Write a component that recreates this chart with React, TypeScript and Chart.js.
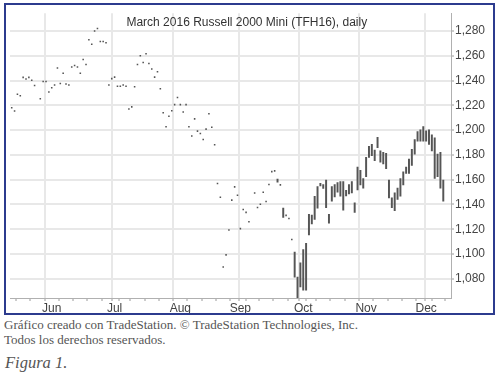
import React, { useEffect, useRef } from "react";
import { Chart, registerables } from "chart.js";

Chart.register(...registerables);

// ---- data ----
const chartTitle = "March 2016 Russell 2000 Mini (TFH16), daily";
const startDate = "2015-05-12"; // first weekday shown
const dayCount = 155; // weekdays on the axis
const monthNames = ["Jan", "Feb", "Mar", "Apr", "May", "Jun", "Jul", "Aug", "Sep", "Oct", "Nov", "Dec"];
const yTicks = [1080, 1100, 1120, 1140, 1160, 1180, 1200, 1220, 1240, 1260, 1280];
const yMin = 1064.5;
const yMax = 1294.4;

// single-print days (thinly traded period), one value per weekday from startDate
const dotPrices: (number | null)[] = [
  1218.0, 1215.4, 1229.0, 1227.7, 1242.6, 1241.3, 1242.6, 1240.2, 1236.1, null,
  1225.3, 1239.2, 1239.2, 1230.8, 1234.2, 1236.5, 1250.2, 1237.6, 1246.0, 1237.3,
  1236.5, 1251.0, 1252.2, 1251.0, 1246.0, 1257.0, 1253.0, 1272.9, 1269.3, 1280.0,
  1282.0, 1271.6, 1271.6, 1270.6, 1236.5, 1241.6, 1242.8, 1235.5, 1235.5, 1236.5,
  1235.5, 1217.0, 1218.8, 1235.0, 1253.0, 1260.1, 1254.6, 1261.6, 1253.8, 1249.4,
  1242.8, 1247.1, 1233.4, 1214.1, 1202.8, 1211.2, 1215.7, 1220.6, 1226.4, 1220.6,
  1214.6, 1220.6, 1202.8, 1195.3, 1209.1, 1199.2, 1197.3, 1192.4, 1200.8, 1213.3,
  1202.4, 1188.2, 1156.9, 1145.9, 1089.6, 1099.3, 1119.4, 1143.5, 1154.2, 1147.5,
  1120.5, 1135.9, 1133.6, 1126.0, null, 1149.3, 1137.5, 1140.1, 1149.8, 1142.4,
  1156.1, 1166.5, 1167.1, null, 1155.8, null, 1131.2, 1128.6, 1111.8,
];

// high-low bars, starting at weekday index firstBarDay
const firstBarDay = 93;
const barHighs: (number | null)[] = [
  1160.5, null, 1137.0, null, null, null, 1101.6, 1081.3, 1092.8, 1103.5,
  1108.7, 1132.0, 1131.5, 1146.5, 1154.5, 1157.0, 1156.0, 1159.7, 1132.0, 1154.5,
  1156.0, 1157.6, 1158.4, 1158.4, 1151.4, 1156.0, 1158.4, 1141.4, 1170.2, 1167.5,
  1161.0, 1178.0, 1187.0, 1188.5, 1184.0, 1194.2, 1183.2, 1182.0, 1181.2, 1159.7,
  1145.3, 1149.3, 1153.2, 1161.0, 1166.3, 1170.2, 1176.7, 1184.5, 1192.4, 1198.9,
  1200.2, 1202.8, 1199.5, 1200.2, 1196.3, 1193.7, 1180.6, 1182.0, 1159.7,
];
const barLows: (number | null)[] = [
  1158.0, null, 1129.5, null, null, null, 1081.3, 1062.0, 1073.4, 1070.8,
  1070.8, 1115.5, 1124.4, 1128.0, 1137.0, 1155.0, 1153.0, 1137.5, 1125.0, 1142.7,
  1146.0, 1150.0, 1146.7, 1135.5, 1147.0, 1148.5, 1149.3, 1133.6, 1151.8, 1155.8,
  1153.2, 1162.4, 1178.0, 1179.3, 1175.4, 1185.9, 1174.1, 1172.8, 1168.9, 1145.3,
  1137.5, 1134.9, 1144.0, 1146.7, 1155.8, 1165.0, 1165.0, 1171.5, 1180.6, 1191.0,
  1191.0, 1191.0, 1191.0, 1188.5, 1183.2, 1161.0, 1162.4, 1153.2, 1142.7,
];

const captionLines = [
  "Gráfico creado con TradeStation. © TradeStation Technologies, Inc.",
  "Todos los derechos reservados.",
];
const figureLabel = "Figura 1.";

// ---- derived axis info (weekday calendar) ----
function buildCalendar() {
  const d = new Date(startDate + "T12:00:00Z");
  const monthStart: Record<number, string> = {};
  const mondays: number[] = [];
  let prevMonth = -1;
  for (let i = 0; i < dayCount; i++) {
    while (d.getUTCDay() === 0 || d.getUTCDay() === 6) d.setUTCDate(d.getUTCDate() + 1);
    const m = d.getUTCMonth();
    if (prevMonth !== -1 && m !== prevMonth) monthStart[i] = monthNames[m];
    prevMonth = m;
    if (d.getUTCDay() === 1) mondays.push(i);
    d.setUTCDate(d.getUTCDate() + 1);
  }
  return { monthStart, mondays };
}

const titlePlugin = {
  id: "insideTitle",
  afterDraw(chart: any) {
    const { ctx, chartArea } = chart;
    ctx.save();
    ctx.font = "12px 'Liberation Sans', Arial, sans-serif";
    ctx.fillStyle = "#333";
    ctx.textBaseline = "middle";
    ctx.textAlign = "center";
    ctx.fillText(chartTitle, chartArea.left + chartArea.width * 0.537, chartArea.top + 9);
    ctx.restore();
  },
};

export default function App() {
  const ref = useRef<HTMLCanvasElement | null>(null);

  useEffect(() => {
    if (!ref.current) return;
    const { monthStart, mondays } = buildCalendar();
    const tickSet = new Set<number>([...mondays, ...Object.keys(monthStart).map(Number)]);
    const xTickValues = Array.from(tickSet).sort((a, b) => a - b);

    const barData: any[] = [];
    barHighs.forEach((h, k) => {
      const l = barLows[k];
      if (h != null && l != null) barData.push({ x: firstBarDay + k, y: [l, h] });
    });
    const dotData: any[] = [];
    dotPrices.forEach((p, i) => {
      if (p != null) dotData.push({ x: i, y: p });
    });

    const font = { family: "'Liberation Sans', Arial, sans-serif", size: 12 };

    const chart = new Chart(ref.current, {
      type: "bar",
      data: {
        datasets: [
          {
            type: "bar",
            data: barData,
            backgroundColor: "#555",
            barThickness: 1.3,
            grouped: false,
          } as any,
          {
            type: "scatter",
            data: dotData,
            pointStyle: "rect",
            pointRadius: 1.1,
            backgroundColor: "#555",
            borderWidth: 0,
          } as any,
        ],
      },
      options: {
        animation: false,
        responsive: false,
        events: [],
        layout: { padding: { left: 1, top: 0, right: 0, bottom: 0 } },
        plugins: { legend: { display: false }, tooltip: { enabled: false }, title: { display: false } },
        scales: {
          x: {
            type: "linear",
            min: -0.6,
            max: 153.7,
            offset: false,
            afterBuildTicks: (s: any) => {
              s.ticks = xTickValues.map((v) => ({ value: v }));
            },
            afterFit: (s: any) => {
              s.height = 15;
            },
            ticks: {
              autoSkip: false,
              maxRotation: 0,
              padding: 0,
              font,
              color: "#444",
              callback: (v: any) => monthStart[v] ?? "",
            },
            grid: {
              color: (c: any) => (c.tick && monthStart[c.tick.value] ? "#e8e8e8" : "rgba(0,0,0,0)"),
              lineWidth: 2,
              tickColor: "#9a9a9a",
              tickLength: 3,
              tickWidth: 1,
            },
            border: { color: "#b0b0b0", width: 1 },
          } as any,
          y: {
            type: "linear",
            position: "right",
            min: yMin,
            max: yMax,
            afterBuildTicks: (s: any) => {
              s.ticks = yTicks.map((v) => ({ value: v }));
            },
            afterFit: (s: any) => {
              s.width = 42;
            },
            ticks: {
              padding: 1,
              font,
              color: "#444",
              callback: (v: any) => Number(v).toLocaleString("en-US"),
            },
            grid: {
              color: "#e8e8e8",
              lineWidth: 2,
              tickColor: "#9a9a9a",
              tickLength: 3,
              tickWidth: 1,
            },
            border: { color: "#b0b0b0", width: 1 },
          } as any,
        },
      },
      plugins: [titlePlugin],
    });
    return () => chart.destroy();
  }, []);

  return (
    <div style={{ position: "absolute", left: 0, top: 0, width: 500, height: 376, background: "#fff", overflow: "hidden" }}>
      <div
        style={{
          position: "absolute",
          left: 4,
          top: 3,
          width: 491,
          height: 312,
          boxSizing: "border-box",
          border: "2px solid #2c3b8e",
        }}
      />
      <canvas
        ref={ref}
        width={487}
        height={308}
        style={{ position: "absolute", left: 6, top: 5, width: 487, height: 308 }}
      />
      <div
        style={{
          position: "absolute",
          left: 4,
          top: 318,
          fontFamily: "'Liberation Serif', 'Times New Roman', serif",
          fontSize: 13,
          lineHeight: "14.5px",
          color: "#555",
          whiteSpace: "nowrap",
        }}
      >
        {captionLines.map((l, i) => (
          <div key={i}>{l}</div>
        ))}
      </div>
      <div
        style={{
          position: "absolute",
          left: 5,
          top: 354,
          fontFamily: "'Liberation Serif', 'Times New Roman', serif",
          fontStyle: "italic",
          fontSize: 16.5,
          lineHeight: "18px",
          color: "#555",
          whiteSpace: "nowrap",
        }}
      >
        {figureLabel}
      </div>
    </div>
  );
}
